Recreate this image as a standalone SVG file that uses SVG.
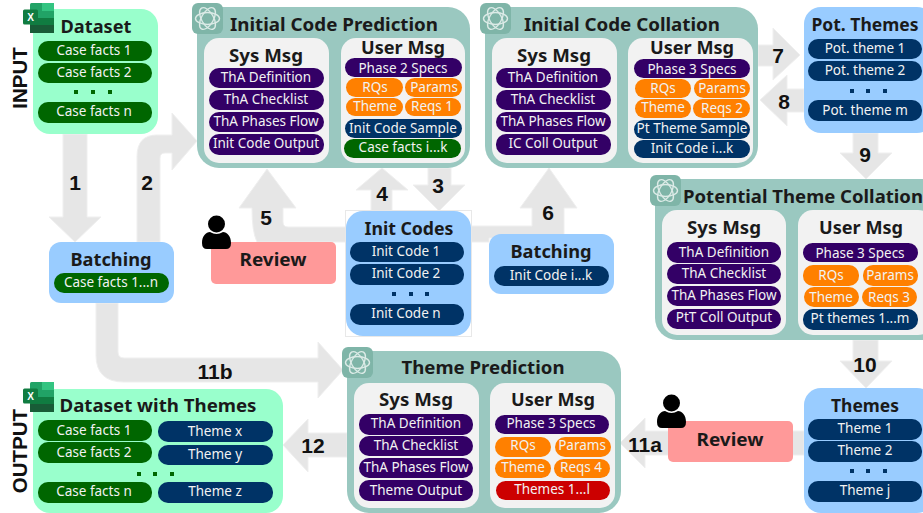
<svg xmlns="http://www.w3.org/2000/svg" width="923" height="513" viewBox="0 0 923 513">
<style>
text{font-family:"Noto Sans","DejaVu Sans",sans-serif;text-anchor:middle;dominant-baseline:central}
.t{font-size:18px;font-weight:bold;fill:#1a1a1a}
.m{font-size:18px;font-weight:bold;fill:#1a1a1a}
.n{font-family:"Liberation Sans",sans-serif;font-size:21px;font-weight:bold;fill:#111}
.s{font-family:"Liberation Sans",sans-serif;font-size:20.5px;font-weight:bold;fill:#111}
.p{font-size:13.5px;fill:#f2f2f2}
.f{fill:#e6e6e6;stroke:#efefef;stroke-width:1}
.c{fill:#9ac8c0}.w{fill:#f2f2f2}.b{fill:#99ccff}.g{fill:#99ffcc}.r{fill:#ff9999}
.pu{fill:#330066}.nv{fill:#003366}.gr{fill:#006600}.or{fill:#ff8000}.rd{fill:#cc0000}
</style>
<defs>
<symbol id="gpt" viewBox="0 0 31 31"><rect width="31" height="31" rx="6" fill="#7fb5a8"/><g fill="none" stroke="#dcebe7" stroke-width="1.4"><ellipse cx="15.5" cy="15.5" rx="12" ry="6"/><ellipse cx="15.5" cy="15.5" rx="12" ry="6" transform="rotate(60 15.5 15.5)"/><ellipse cx="15.5" cy="15.5" rx="12" ry="6" transform="rotate(120 15.5 15.5)"/></g></symbol>
<symbol id="xl" viewBox="0 0 31 30"><rect x="7" width="24" height="30" rx="1.5" fill="#21a366"/><rect x="19" width="12" height="8" fill="#33c481"/><rect x="7" y="15" width="24" height="15" fill="#107c41"/><rect x="7" y="22" width="24" height="8" fill="#185c37"/><rect y="6.500" width="15" height="15" rx="1.500" fill="#107c41"/><text x="7.500" y="14" style="font-size:10px;font-weight:bold;fill:#fff;font-family:'Liberation Sans',sans-serif">X</text></symbol>
<symbol id="usr" viewBox="0 0 29 34"><circle cx="14.500" cy="9" r="8.500" fill="#000"/><path d="M0 28c0-7 4-11 8-11q6.500 4 13 0c4 0 8 4 8 11q0 6-5 6H5q-5 0-5-6z" fill="#000"/></symbol>
</defs>

<text class="s" transform="translate(19 78) rotate(-90)">INPUT</text>
<text class="s" transform="translate(19 451) rotate(-90)">OUTPUT</text>

<g id="connectors">
<path class="f" d="M63 134H87V217H101L75 242L49 217H63Z"/>
<path class="f" d="M137 242V157Q137 135 157 135H172V113L197 141L172 170V153H165Q160 153 160 158V242Z"/>
<path class="f" d="M428 168H451V185H465L439 211L413 185H428Z"/>
<path class="f" d="M371 211V190H356L382 168L408 190H392V211Z"/>
<path class="f" d="M346 242H257Q252 232 252 208H239L267 169L296 208H283V222Q283 227 288 227H346Z"/>
<path class="f" d="M470 226H532V208H520L549 168L577 208H564V238H489V242H470Z"/>
<path class="f" d="M758 45H773V28L800 55L773 80V66H758Z"/>
<path class="f" d="M804 89H787V75L760 100L787 126V112H804Z"/>
<path class="f" d="M853 133H878V153H892L866 179L840 153H853Z"/>
<path class="f" d="M853 340H878V361H892L866 388L840 361H853Z"/>
<path class="f" d="M804 431H645V418L620 443L645 468V455H804Z"/>
<path class="f" d="M96 303V355Q96 382 124 382H318V398L343 370L318 342V358H124Q118 358 118 352V303Z"/>
<path class="f" d="M347 433H308V419L283 445L308 472V457H347Z"/>
</g>
<g id="connector-labels">
<text class="n" x="75" y="182">1</text><text class="n" x="147" y="182">2</text><text class="n" x="438" y="185">3</text><text class="n" x="382" y="193">4</text><text class="n" x="266" y="217">5</text><text class="n" x="548" y="212">6</text><text class="n" x="778" y="55">7</text><text class="n" x="784" y="101">8</text><text class="n" x="865" y="154">9</text><text class="n" x="865" y="364">10</text><text class="n" x="645" y="444">11a</text><text class="n" x="215" y="371">11b</text><text class="n" x="313" y="445">12</text>
</g>

<g id="dataset">
<rect class="g" x="33" y="9" width="125" height="125" rx="17"/>
<use href="#xl" x="23" y="3" width="31" height="30"/>
<text class="t" x="96" y="26" textLength="71" lengthAdjust="spacingAndGlyphs">Dataset</text>
<rect class="gr" x="38" y="41" width="114" height="20" rx="10"/><text class="p" x="94" y="50">Case facts 1</text>
<rect class="gr" x="38" y="63" width="114" height="20" rx="10"/><text class="p" x="94" y="72">Case facts 2</text>
<path class="gr" d="M74 90h4v4h-4zM91 90h4v4h-4zM108 90h4v4h-4z"/>
<rect class="gr" x="38" y="102" width="114" height="21" rx="10"/><text class="p" x="94" y="111">Case facts n</text>
</g>

<g id="batching1">
<rect class="b" x="49" y="242" width="125" height="61" rx="12"/>
<text class="t" x="111" y="259" textLength="81" lengthAdjust="spacingAndGlyphs">Batching</text>
<rect class="gr" x="54" y="273" width="115" height="20" rx="10"/><text class="p" x="111" y="282">Case facts 1...n</text>
</g>

<g id="initial-code-prediction">
<rect class="c" x="197" y="7" width="273" height="161" rx="22"/>
<use href="#gpt" x="192" y="3" width="31" height="31"/>
<text class="t" x="334" y="24" textLength="208" lengthAdjust="spacingAndGlyphs">Initial Code Prediction</text>
<rect class="w" x="204" y="38" width="125" height="125" rx="15"/>
<rect class="w" x="341" y="38" width="124" height="125" rx="15"/>
<text class="m" x="266" y="55" textLength="74" lengthAdjust="spacingAndGlyphs">Sys Msg</text><text class="m" x="403" y="46.500" textLength="84" lengthAdjust="spacingAndGlyphs">User Msg</text>
<rect class="pu" x="209" y="68" width="115" height="20" rx="10"/><text class="p" x="266" y="77">ThA Definition</text>
<rect class="pu" x="209" y="90" width="115" height="20" rx="10"/><text class="p" x="266" y="99">ThA Checklist</text>
<rect class="pu" x="209" y="112" width="115" height="20" rx="10"/><text class="p" x="266" y="121">ThA Phases Flow</text>
<rect class="pu" x="209" y="134" width="115" height="21" rx="10"/><text class="p" x="266" y="143">Init Code Output</text>
<rect class="pu" x="345" y="58" width="117" height="19" rx="9.500"/><text class="p" x="403" y="67.500">Phase 2 Specs</text>
<rect class="or" x="346" y="78" width="57" height="19" rx="9.500"/><text class="p" x="375" y="87">RQs</text>
<rect class="or" x="405" y="78" width="57" height="19" rx="9.500"/><text class="p" x="434" y="87">Params</text>
<rect class="or" x="346" y="98" width="57" height="18" rx="9"/><text class="p" x="375" y="106">Theme</text>
<rect class="or" x="405" y="98" width="56" height="18" rx="9"/><text class="p" x="432" y="106">Reqs 1</text>
<rect class="nv" x="345" y="119" width="117" height="19" rx="9.500"/><text class="p" x="403" y="127.500">Init Code Sample</text>
<rect class="gr" x="344" y="139" width="117" height="19" rx="9.500"/><text class="p" x="403" y="147">Case facts i...k</text>
</g>

<g id="initial-code-collation">
<rect class="c" x="485" y="7" width="273" height="161" rx="22"/>
<use href="#gpt" x="480" y="3" width="31" height="31"/>
<text class="t" x="622" y="24" textLength="196" lengthAdjust="spacingAndGlyphs">Initial Code Collation</text>
<rect class="w" x="492" y="38" width="125" height="125" rx="15"/>
<rect class="w" x="628" y="38" width="125" height="125" rx="15"/>
<text class="m" x="554" y="55" textLength="74" lengthAdjust="spacingAndGlyphs">Sys Msg</text><text class="m" x="692" y="47" textLength="84" lengthAdjust="spacingAndGlyphs">User Msg</text>
<rect class="pu" x="496" y="68" width="115" height="20" rx="10"/><text class="p" x="553" y="77">ThA Definition</text>
<rect class="pu" x="496" y="90" width="115" height="20" rx="10"/><text class="p" x="553" y="99">ThA Checklist</text>
<rect class="pu" x="496" y="112" width="115" height="20" rx="10"/><text class="p" x="553" y="121">ThA Phases Flow</text>
<rect class="pu" x="496" y="134" width="115" height="21" rx="10"/><text class="p" x="553" y="143">IC Coll Output</text>
<rect class="pu" x="634" y="59" width="116" height="19" rx="9.500"/><text class="p" x="692" y="68.500">Phase 3 Specs</text>
<rect class="or" x="635" y="79" width="56" height="19" rx="9.500"/><text class="p" x="663" y="88">RQs</text>
<rect class="or" x="694" y="79" width="56" height="19" rx="9.500"/><text class="p" x="722" y="88">Params</text>
<rect class="or" x="635" y="99" width="56" height="19" rx="9.500"/><text class="p" x="663" y="107">Theme</text>
<rect class="or" x="693" y="99" width="57" height="19" rx="9.500"/><text class="p" x="722" y="108">Reqs 2</text>
<rect class="nv" x="634" y="120" width="116" height="19" rx="9.500"/><text class="p" x="692" y="128">Pt Theme Sample</text>
<rect class="nv" x="634" y="140" width="116" height="18" rx="9"/><text class="p" x="692" y="148">Init Code i...k</text>
</g>

<g id="pot-themes">
<rect class="b" x="804" y="7" width="130" height="126" rx="17"/>
<text class="t" x="865" y="24" textLength="107" lengthAdjust="spacingAndGlyphs">Pot. Themes</text>
<rect class="nv" x="808" y="39" width="114" height="20" rx="10"/><text class="p" x="865" y="48">Pot. theme 1</text>
<rect class="nv" x="808" y="61" width="114" height="20" rx="10"/><text class="p" x="865" y="70">Pot. theme 2</text>
<path class="nv" d="M850 89h4v4h-4zM866 89h4v4h-4zM883 89h4v4h-4z"/>
<rect class="nv" x="808" y="100" width="114" height="21" rx="10"/><text class="p" x="865" y="110">Pot. theme m</text>
</g>

<g id="potential-theme-collation">
<rect class="c" x="655" y="179" width="290" height="161" rx="22"/>
<use href="#gpt" x="650" y="175" width="31" height="31"/>
<text class="t" x="803" y="196" textLength="240" lengthAdjust="spacingAndGlyphs">Potential Theme Collation</text>
<rect class="w" x="662" y="210" width="124" height="125" rx="15"/>
<rect class="w" x="798" y="210" width="135" height="125" rx="15"/>
<text class="m" x="724" y="227" textLength="74" lengthAdjust="spacingAndGlyphs">Sys Msg</text><text class="m" x="861" y="227" textLength="84" lengthAdjust="spacingAndGlyphs">User Msg</text>
<rect class="pu" x="667" y="242" width="114" height="21" rx="10"/><text class="p" x="724" y="252">ThA Definition</text>
<rect class="pu" x="667" y="264" width="114" height="20" rx="10"/><text class="p" x="724" y="273">ThA Checklist</text>
<rect class="pu" x="667" y="286" width="114" height="20" rx="10"/><text class="p" x="724" y="295">ThA Phases Flow</text>
<rect class="pu" x="667" y="309" width="114" height="20" rx="10"/><text class="p" x="724" y="317">PtT Coll Output</text>
<rect class="pu" x="803" y="243" width="115" height="19" rx="9.500"/><text class="p" x="860" y="253">Phase 3 Specs</text>
<rect class="or" x="803" y="265" width="56" height="21" rx="10"/><text class="p" x="831" y="275">RQs</text>
<rect class="or" x="863" y="265" width="55" height="21" rx="10"/><text class="p" x="890" y="275">Params</text>
<rect class="or" x="804" y="287" width="55" height="20" rx="10"/><text class="p" x="831" y="297">Theme</text>
<rect class="or" x="862" y="287" width="55" height="20" rx="10"/><text class="p" x="889" y="297">Reqs 3</text>
<rect class="nv" x="803" y="309" width="115" height="21" rx="10"/><text class="p" x="860" y="318">Pt themes 1...m</text>
</g>

<g id="review1">
<rect class="r" x="211" y="242" width="125" height="42" rx="5"/>
<use href="#usr" x="202" y="215" width="29" height="34"/>
<text class="t" x="273" y="259" textLength="67" lengthAdjust="spacingAndGlyphs">Review</text>
</g>

<g id="init-codes">
<rect x="345.500" y="210.500" width="126" height="126" fill="#fff" stroke="#e8e8e8" stroke-width="1"/>
<rect class="b" x="346" y="211" width="125" height="125" rx="17"/>
<text class="t" x="409" y="228" textLength="89" lengthAdjust="spacingAndGlyphs">Init Codes</text>
<rect class="nv" x="350" y="242" width="114" height="20" rx="10"/><text class="p" x="406" y="251">Init Code 1</text>
<rect class="nv" x="350" y="264" width="114" height="21" rx="10"/><text class="p" x="406" y="273">Init Code 2</text>
<path class="nv" d="M392 292h4v4h-4zM409 292h4v4h-4zM425 292h4v4h-4z"/>
<rect class="nv" x="350" y="304" width="114" height="21" rx="10"/><text class="p" x="406" y="313">Init Code n</text>
</g>

<g id="batching2">
<rect class="b" x="489" y="234" width="125" height="60" rx="12"/>
<text class="t" x="551" y="251" textLength="81" lengthAdjust="spacingAndGlyphs">Batching</text>
<rect class="nv" x="494" y="266" width="115" height="20" rx="10"/><text class="p" x="551" y="275">Init Code i...k</text>
</g>

<g id="theme-prediction">
<rect class="c" x="347" y="351" width="274" height="162" rx="22"/>
<use href="#gpt" x="342" y="347" width="31" height="31"/>
<text class="t" x="483" y="367" textLength="163" lengthAdjust="spacingAndGlyphs">Theme Prediction</text>
<rect class="w" x="354" y="383" width="125" height="125" rx="15"/>
<rect class="w" x="490" y="383" width="125" height="125" rx="15"/>
<text class="m" x="416" y="399" textLength="74" lengthAdjust="spacingAndGlyphs">Sys Msg</text><text class="m" x="553" y="399" textLength="84" lengthAdjust="spacingAndGlyphs">User Msg</text>
<rect class="pu" x="359" y="414" width="114" height="21" rx="10"/><text class="p" x="416" y="423">ThA Definition</text>
<rect class="pu" x="359" y="436" width="114" height="20" rx="10"/><text class="p" x="416" y="445">ThA Checklist</text>
<rect class="pu" x="359" y="458" width="114" height="20" rx="10"/><text class="p" x="416" y="467">ThA Phases Flow</text>
<rect class="pu" x="359" y="480" width="114" height="21" rx="10"/><text class="p" x="416" y="490">Theme Output</text>
<rect class="pu" x="495" y="415" width="114" height="19" rx="9.500"/><text class="p" x="551" y="423">Phase 3 Specs</text>
<rect class="or" x="495" y="437" width="56" height="20" rx="10"/><text class="p" x="523" y="445">RQs</text>
<rect class="or" x="555" y="437" width="56" height="20" rx="10"/><text class="p" x="582" y="445">Params</text>
<rect class="or" x="495" y="459" width="56" height="19" rx="9.500"/><text class="p" x="523" y="467">Theme</text>
<rect class="or" x="554" y="459" width="56" height="19" rx="9.500"/><text class="p" x="581" y="467">Reqs 4</text>
<rect class="rd" x="496" y="481" width="114" height="19" rx="9.500"/><text class="p" x="552" y="489">Themes 1...l</text>
</g>

<g id="themes">
<rect class="b" x="804" y="388" width="130" height="125" rx="17"/>
<text class="t" x="865" y="405" textLength="68" lengthAdjust="spacingAndGlyphs">Themes</text>
<rect class="nv" x="808" y="419" width="114" height="21" rx="10"/><text class="p" x="865" y="428">Theme 1</text>
<rect class="nv" x="808" y="441" width="114" height="21" rx="10"/><text class="p" x="865" y="450">Theme 2</text>
<path class="nv" d="M850 469h4v4h-4zM866 469h4v4h-4zM883 469h4v4h-4z"/>
<rect class="nv" x="808" y="481" width="114" height="21" rx="10"/><text class="p" x="865" y="490">Theme j</text>
</g>

<g id="review2">
<rect class="r" x="668" y="421" width="125" height="41" rx="5"/>
<use href="#usr" x="657" y="394" width="29" height="34"/>
<text class="t" x="730" y="439" textLength="67" lengthAdjust="spacingAndGlyphs">Review</text>
</g>

<g id="dataset-with-themes">
<rect class="g" x="33" y="389" width="250" height="124" rx="17"/>
<use href="#xl" x="23" y="382" width="31" height="30"/>
<text class="t" x="158" y="405" textLength="197" lengthAdjust="spacingAndGlyphs">Dataset with Themes</text>
<rect class="gr" x="38" y="420" width="114" height="21" rx="10"/><text class="p" x="94" y="430">Case facts 1</text>
<rect class="gr" x="38" y="442" width="114" height="21" rx="10"/><text class="p" x="94" y="452">Case facts 2</text>
<path class="gr" d="M137 472h4v4h-4zM153 472h4v4h-4zM170 472h4v4h-4z"/>
<rect class="gr" x="38" y="482" width="114" height="21" rx="10"/><text class="p" x="94" y="491">Case facts n</text>
<rect class="nv" x="158" y="421" width="115" height="21" rx="10"/><text class="p" x="215" y="431">Theme x</text>
<rect class="nv" x="158" y="445" width="115" height="20" rx="10"/><text class="p" x="215" y="454">Theme y</text>
<rect class="nv" x="158" y="482" width="115" height="21" rx="10"/><text class="p" x="215" y="491">Theme z</text>
</g>
</svg>
